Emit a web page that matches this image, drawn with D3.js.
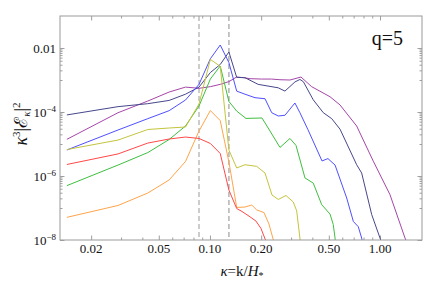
<!DOCTYPE html>
<html>
<head>
<meta charset="utf-8">
<script src="https://cdn.jsdelivr.net/npm/d3@7"></script>
<style>
  body { margin: 0; background: #fff; }
  svg { display: block; }
  .line { fill: none; stroke-width: 1; }
</style>
</head>
<body>
<svg id="chart"></svg>
<script>

// series, [kappa, value]
const purple = [[0.0144,1.4e-5],[0.0288,9.5e-5],[0.0431,2.2e-4],[0.0575,4.2e-4],[0.0718,6.0e-4],[0.0862,5.5e-4],
  [0.1005,6.2e-4],[0.1149,7.3e-4],[0.1292,8.9e-4],[0.1436,1.24e-3],[0.158,1.18e-3],[0.172,1.10e-3],[0.201,1.07e-3],
  [0.230,1.07e-3],[0.258,1.02e-3],[0.2955,1.0e-3],[0.316,1.10e-3],[0.343,1.24e-3],[0.396,6.2e-4],[0.508,3.0e-4],
  [0.582,1.66e-4],[0.729,3.65e-5],[0.913,2.9e-6],[1.145,2.6e-7],[1.403,1.15e-8],[1.54,3.4e-9]];

const navy = [[0.0144,8.1e-5],[0.0288,1.47e-4],[0.0431,1.82e-4],[0.0575,2.3e-4],[0.0718,3.6e-4],[0.0862,6.0e-4],
  [0.1005,1.71e-3],[0.1149,3.05e-3],[0.1292,7.5e-3],[0.1436,1.21e-3],[0.1606,1.18e-3],[0.192,7.3e-4],[0.252,5.7e-4],
  [0.276,4.5e-4],[0.316,8.7e-4],[0.338,1.04e-3],[0.354,8.9e-4],[0.405,2.4e-4],[0.464,9.5e-5],[0.520,6.2e-5],
  [0.582,2.9e-5],[0.729,2.25e-6],[0.780,1.24e-6],[0.894,6.2e-8],[1.0,1.15e-8],[1.056,4.9e-9]];

const blue = [[0.0144,6.5e-6],[0.0288,2.74e-5],[0.0431,6.2e-5],[0.0575,1.10e-4],[0.0718,2.37e-4],[0.0862,7.3e-4],
  [0.1005,4.6e-3],[0.1149,1.24e-2],[0.1292,3.5e-3],[0.1436,4.5e-4],[0.1606,3.6e-4],[0.184,2.8e-4],[0.2107,2.6e-4],
  [0.2307,9.5e-5],[0.2522,7.5e-5],[0.276,7.9e-5],[0.316,1.91e-4],[0.338,9.5e-5],[0.377,2.8e-5],[0.456,2.95e-6],
  [0.494,3.5e-6],[0.544,2.2e-6],[0.637,2.05e-7],[0.697,3.8e-8],[0.745,2.6e-8],[0.780,1.15e-8],[0.805,4.9e-9]];

const green = [[0.0144,5.0e-7],[0.0288,2.2e-6],[0.0431,5.4e-6],[0.0575,1.38e-5],[0.0718,3.65e-5],[0.0862,1.54e-4],
  [0.1005,1.07e-3],[0.1149,2.74e-3],[0.1292,2.13e-4],[0.1436,1.07e-4],[0.1628,6.3e-5],[0.2023,6.5e-5],[0.2254,2.55e-5],
  [0.2581,7.8e-6],[0.2955,1.49e-5],[0.3206,9.0e-6],[0.362,8.7e-7],[0.405,6.0e-7],[0.454,1.27e-7],[0.508,6.5e-8],
  [0.531,3.05e-8],[0.544,1.15e-8],[0.551,4.9e-9]];

const yellow = [[0.0144,6.7e-6],[0.0288,1.33e-5],[0.0431,2.84e-5],[0.0575,3.16e-5],[0.0718,3.4e-5],[0.0862,1.78e-4],
  [0.1005,4.4e-3],[0.1149,2.68e-3],[0.1292,6.5e-6],[0.1436,1.78e-6],[0.1606,2.25e-6],[0.1883,2.0e-6],[0.2107,1.24e-6],
  [0.2316,2.55e-7],[0.2522,1.85e-7],[0.280,2.46e-7],[0.309,1.54e-7],[0.3236,8.1e-8],[0.338,1.15e-8],[0.343,4.9e-9]];

const orange = [[0.0144,5.1e-8],[0.0288,1.20e-7],[0.0431,2.94e-7],[0.0575,7.5e-7],[0.0718,2.84e-6],[0.0862,2.55e-5],
  [0.1005,1.11e-4],[0.1149,5.4e-5],[0.1292,2.74e-6],[0.1436,1.04e-7],[0.1606,1.07e-7],[0.176,1.24e-7],[0.1883,8.7e-8],
  [0.2078,7.2e-8],[0.2223,3.16e-8],[0.2357,1.02e-8],[0.2396,4.9e-9]];

const red = [[0.0144,2.29e-6],[0.0288,4.9e-6],[0.0431,1.07e-5],[0.0575,1.43e-5],[0.0718,1.65e-5],[0.0862,1.49e-5],
  [0.1005,1.04e-5],[0.1149,5.05e-6],[0.1292,3.65e-7],[0.1436,9.6e-8],[0.1542,7.8e-8],[0.172,5.3e-8],[0.1865,3.9e-8],
  [0.1995,2.3e-8],[0.2121,1.0e-8],[0.2163,4.9e-9]];

const seriesNames = ["purple", "navy", "blue", "green", "yellow", "orange", "red"];
const seriesData = [purple, navy, blue, green, yellow, orange, red];
const seriesColors = ["#a546a8", "#47478c", "#4f4fff", "#3fbf3f", "#c4c43e", "#ffa44a", "#ff4848"];

const markers = [0.0862, 0.1292];

const xMajor = [0.02, 0.05, 0.1, 0.2, 0.5, 1.0];
const xMajorLabels = ["0.02", "0.05", "0.10", "0.20", "0.50", "1.00"];
const yMajor = [1e-2, 1e-4, 1e-6, 1e-8];
const yMajorLabels = [["0.01", ""], ["10", "\u22124"], ["10", "\u22126"], ["10", "\u22128"]];

const W = 425, H = 282;
const margin = {top: 16, right: 3, bottom: 42, left: 60},
  width = W - margin.left - margin.right,
  height = H - margin.top - margin.bottom;

const xScale = d3.scaleLog().domain([0.01312, 1.766]).range([0, width]);
const yScale = d3.scaleLog().domain([1e-8, 0.1]).range([height, 0]);

const svg = d3.select("#chart").attr("width", W).attr("height", H)
  .attr("font-family", "Liberation Serif, Times New Roman, serif")
  .attr("fill", "#111");

const g = svg.append("g")
  .attr("transform", "translate(" + margin.left + "," + margin.top + ")");

g.append("clipPath").attr("id", "clip")
  .append("rect").attr("width", width).attr("height", height);

// minor ticks
let xMinor = [];
[0.01, 0.1, 1].forEach(d => {
  for (let m = 1; m <= 9; m++) {
    const v = d * m;
    if (v > xScale.domain()[0] && v < xScale.domain()[1] && xMajor.indexOf(+v.toFixed(3)) < 0) xMinor.push(v);
  }
});
let yMinor = [];
yMajor.forEach(L => {
  for (let m = 1; m <= 9; m++) {
    const v = m * L / 10;
    if (v >= 1e-8 && v <= 0.1) yMinor.push(v);
  }
});

function tickAxis(axis, values, size, transform) {
  const a = g.append("g")
    .attr("transform", transform)
    .call(axis.tickValues(values).tickSize(size).tickFormat(""));
  a.select(".domain").remove();
  a.selectAll("line").attr("stroke", "#888").attr("stroke-width", 0.8);
  return a;
}

tickAxis(d3.axisBottom(xScale), xMajor, -4.5, "translate(0," + height + ")");
tickAxis(d3.axisBottom(xScale), xMinor, -2.5, "translate(0," + height + ")");
tickAxis(d3.axisTop(xScale), xMajor, -4.5, "translate(0,0)");
tickAxis(d3.axisTop(xScale), xMinor, -2.5, "translate(0,0)");
tickAxis(d3.axisLeft(yScale), yMajor, -4.5, "translate(0,0)");
tickAxis(d3.axisLeft(yScale), yMinor, -2.5, "translate(0,0)");
tickAxis(d3.axisRight(yScale), yMajor, -4.5, "translate(" + width + ",0)");
tickAxis(d3.axisRight(yScale), yMinor, -2.5, "translate(" + width + ",0)");

// tick labels
g.selectAll(".xlab").data(xMajor).enter().append("text")
  .attr("class", "xlab")
  .attr("x", d => xScale(d))
  .attr("y", height + 13)
  .attr("text-anchor", "middle")
  .attr("font-family", "Liberation Serif")
  .attr("font-size", "13px")
  .text((d, i) => xMajorLabels[i]);

const ylab = g.selectAll(".ylab").data(yMajor).enter().append("text")
  .attr("class", "ylab")
  .attr("x", -4)
  .attr("y", d => yScale(d) + 4.5)
  .attr("text-anchor", "end")
  .attr("font-family", "Liberation Serif")
  .attr("font-size", "13px");
ylab.append("tspan").text((d, i) => yMajorLabels[i][0]);
ylab.append("tspan").attr("dy", -5).attr("font-size", "9px").text((d, i) => yMajorLabels[i][1]);

// dashed markers
g.selectAll(".marker").data(markers).enter().append("line")
  .attr("class", "marker")
  .attr("x1", d => xScale(d)).attr("x2", d => xScale(d))
  .attr("y1", 0).attr("y2", height)
  .attr("stroke", (d, i) => i == 0 ? "#999" : "#b8b8b8")
  .attr("stroke-width", (d, i) => i == 0 ? 1 : 1.6)
  .attr("stroke-dasharray", "5,3");

const line = d3.line()
  .x(d => xScale(d[0]))
  .y(d => yScale(d[1]));

seriesData.forEach((s, i) => {
  g.append("path")
    .datum(s)
    .attr("class", "line")
    .attr("clip-path", "url(#clip)")
    .attr("d", line)
    .attr("stroke", seriesColors[i]);
});

// frame
g.append("rect")
  .attr("width", width).attr("height", height)
  .attr("fill", "none").attr("stroke", "#999").attr("stroke-width", 1);

g.append("text")
  .attr("x", width - 19)
  .attr("y", 29)
  .attr("text-anchor", "end")
  .attr("font-family", "Liberation Serif")
  .attr("font-size", "20px")
  .text("q=5");

// x title
const xt = svg.append("text")
  .attr("x", 242).attr("y", 276)
  .attr("text-anchor", "middle")
  .attr("font-family", "Liberation Serif")
  .attr("font-size", "15px");
xt.append("tspan").attr("font-style", "italic").text("\u03ba");
xt.append("tspan").text("=k/");
xt.append("tspan").attr("font-style", "italic").text("H");
xt.append("tspan").attr("dy", 3).attr("font-size", "10px").text("*");

// y title
const yt = svg.append("text")
  .attr("transform", "translate(27,124) rotate(-90)")
  .attr("text-anchor", "middle")
  .attr("font-family", "Liberation Serif")
  .attr("font-size", "18px");
yt.append("tspan").attr("font-style", "italic").text("\u03ba");
yt.append("tspan").attr("dy", -7).attr("font-size", "11px").text("3");
yt.append("tspan").attr("dy", 7).text("|\u2130");
yt.append("tspan").attr("dy", 3).attr("font-size", "11px").attr("font-style", "italic").text("\u03ba");
yt.append("tspan").attr("dy", -3).text("|");
yt.append("tspan").attr("dy", -7).attr("font-size", "11px").text("2");

</script>
</body>
</html>
